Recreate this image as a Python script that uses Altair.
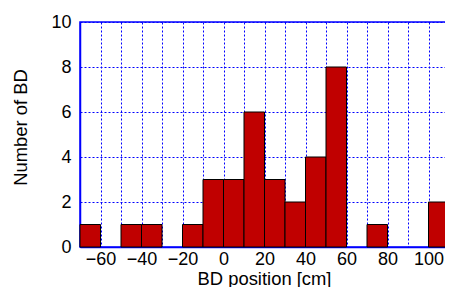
import altair as alt
import pandas as pd

bin_start = [-70, -60, -50, -40, -30, -20, -10, 0, 10, 20, 30, 40, 50, 60, 70, 80, 90, 100]
bin_width = 10
counts = [1, 0, 1, 1, 0, 1, 3, 3, 6, 3, 2, 4, 8, 0, 1, 0, 0, 2]
x_grid_values = list(range(-70, 111, 10))
y_tick_values = [0, 2, 4, 6, 8, 10]

df = pd.DataFrame({
    "start": bin_start,
    "end": [s + bin_width for s in bin_start],
    "count": counts,
})

FONT = "Liberation Sans"
BLUE = "#0000ff"

bars = alt.Chart(df).transform_filter("datum.count > 0").mark_rect(
    color="#c00000", stroke="#000000", strokeWidth=1
).encode(
    x=alt.X("start:Q",
            scale=alt.Scale(domain=[-70, 110], nice=False, zero=False),
            axis=alt.Axis(values=x_grid_values,
                          labelExpr="datum.value % 20 == 0 ? datum.label : ''",
                          labelOverlap=False, labelFlush=False,
                          title="BD position [cm]",
                          titleX=184, titleY=37, titleBaseline="alphabetic",
                          grid=True, gridColor=BLUE, gridDash=[2, 2], gridWidth=1, gridOpacity=1,
                          domainColor=BLUE, domainWidth=1.5,
                          ticks=False, labelPadding=3)),
    x2="end:Q",
    y=alt.Y("count:Q",
            scale=alt.Scale(domain=[0, 10], nice=False),
            axis=alt.Axis(values=y_tick_values, title="Number of BD",
                          titleX=-54, titleY=105, titleBaseline="alphabetic",
                          titleAngle=270, titleAlign="center",
                          grid=True, gridColor=BLUE, gridDash=[2, 2], gridWidth=1, gridOpacity=1,
                          domainColor=BLUE, domainWidth=1.5,
                          ticks=False, labelPadding=9)),
    y2=alt.Y2(datum=0),
)

chart = bars.properties(
    width=369, height=225,
    autosize=alt.AutoSizeParams(type="none"),
    padding={"left": 72, "top": 14, "right": -4, "bottom": 40},
).configure_view(
    stroke=BLUE, strokeWidth=1.5
).configure_axis(
    labelFont=FONT, titleFont=FONT, labelFontSize=18, titleFontSize=18.4,
    labelColor="#000000", titleColor="#000000", titleFontWeight="normal",
)

chart.save("out.html", embed_options={"renderer": "svg", "actions": False})
